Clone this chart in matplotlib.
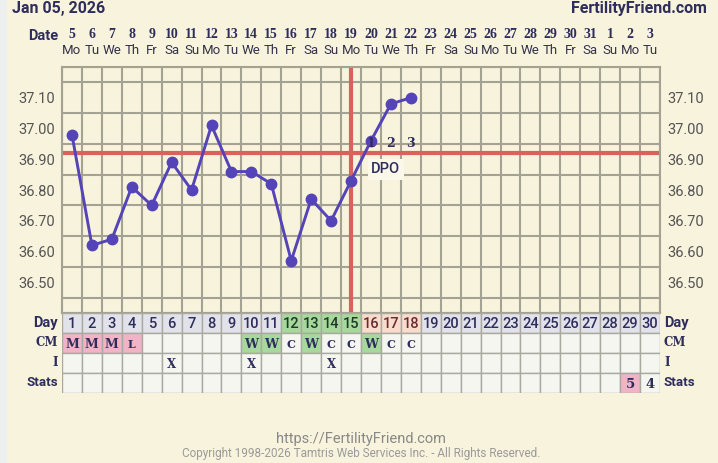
import matplotlib
matplotlib.use("Agg")
import matplotlib.pyplot as plt
import numpy as np
from matplotlib.patches import Rectangle
from matplotlib.transforms import blended_transform_factory

# ---------------- data ----------------
cycle_days = list(range(1, 31))
date_numbers = [5, 6, 7, 8, 9, 10, 11, 12, 13, 14, 15, 16, 17, 18, 19, 20, 21, 22, 23,
                24, 25, 26, 27, 28, 29, 30, 31, 1, 2, 3]
weekdays = ["Mo", "Tu", "We", "Th", "Fr", "Sa", "Su"] * 4 + ["Mo", "Tu"]
temp_days = list(range(1, 19))
temps = [36.98, 36.62, 36.64, 36.81, 36.75, 36.89, 36.80, 37.01, 36.86, 36.86,
         36.82, 36.57, 36.77, 36.70, 36.83, 36.96, 37.08, 37.10]
coverline = 36.92
ovulation_day = 15
dpo_days = [16, 17, 18]
dpo_labels = ["1", "2", "3"]
fertile_days = [12, 13, 14, 15]
cm_values = {1: "M", 2: "M", 3: "M", 4: "L", 10: "W", 11: "W", 12: "C", 13: "W",
             14: "C", 15: "C", 16: "W", 17: "C", 18: "C"}
intercourse_days = [6, 10, 14]
stats_values = {29: "5", 30: "4"}
ytick_values = [36.50, 36.60, 36.70, 36.80, 36.90, 37.00, 37.10]
row_labels = ["Day", "CM", "I", "Stats"]

# ---------------- style ----------------
BG = "#f8f3dc"
GRID = "#a3a293"
NAVY = "#2e2d5c"
LINE = "#5543b8"
RED = "#d9625c"

W, H = 718, 463
fig = plt.figure(figsize=(W / 100, H / 100), dpi=100, facecolor=BG)
fig.patches.append(Rectangle((0, 0), 7 / W, 1, transform=fig.transFigure,
                             facecolor="#eef0ef", edgecolor="none", zorder=0))

L, R, T, B = 62, 660, 67, 313
ax = fig.add_axes([L / W, 1 - B / H, (R - L) / W, (B - T) / H])
ax.set_facecolor(BG)
ax.set_xlim(0.5, 30.5)
ax.set_ylim(36.40, 37.20)
ax.set_xticks(np.arange(0.5, 31, 1), minor=True)
ax.set_yticks(np.arange(36.40, 37.21, 0.05), minor=True)
ax.set_xticks([])
ax.set_yticks(ytick_values)
ax.set_yticklabels([f"{v:.2f}" for v in ytick_values])
ax.tick_params(which="both", length=0)
ax.tick_params(axis="y", labelleft=True, labelright=True, labelsize=10.5,
               labelcolor="#545454", pad=5)
for lab in ax.get_yticklabels():
    lab.set_family("Roboto")
ax.grid(which="minor", color=GRID, linewidth=1.5)
ax.set_axisbelow(True)
for s in ax.spines.values():
    s.set_color(GRID)
    s.set_linewidth(1.5)

ax.axhline(coverline, color=RED, linewidth=3, zorder=2)
ax.axvline(ovulation_day, color=RED, linewidth=3, zorder=2)
ax.plot(temp_days, temps, color=LINE, linewidth=2.1, marker="o", markersize=7.5,
        markerfacecolor=LINE, markeredgecolor=LINE, zorder=3)

for d, lab in zip(dpo_days, dpo_labels):
    ax.text(d, 36.95, lab, ha="center", va="center", fontsize=9, fontweight="bold",
            family="DejaVu Serif", color=NAVY, zorder=4)
ax.text(16.75, 36.868, "DPO", ha="center", va="center", fontsize=10.5,
        family="Roboto", fontweight="medium", color=NAVY, zorder=4,
        bbox=dict(facecolor="#fbf8ea", edgecolor="none", pad=2.5))

# ---------------- header ----------------
tr = blended_transform_factory(ax.transData, fig.transFigure)
for d, dn, wd in zip(cycle_days, date_numbers, weekdays):
    ax.text(d, 1 - 34 / H, str(dn), transform=tr, ha="center", va="center",
            fontsize=10, fontweight="bold", family="Liberation Serif", color=NAVY)
    ax.text(d, 1 - 50 / H, wd, transform=tr, ha="center", va="center",
            fontsize=9.5, family="Roboto", color="#33334a")
fig.text(28 / W, 1 - 36 / H, "Date", ha="left", va="center", fontsize=10.5,
         fontweight="bold", family="Roboto", color=NAVY)
fig.text(12 / W, 1 - 9 / H, "Jan 05, 2026", ha="left", va="center", fontsize=11.5,
         fontweight="bold", family="Roboto", color=NAVY)
fig.text(707 / W, 1 - 9 / H, "FertilityFriend.com", ha="right", va="center",
         fontsize=11.5, fontweight="bold", family="Roboto", color=NAVY)

# ---------------- table ----------------
TB = 393
tax = fig.add_axes([L / W, 1 - TB / H, (R - L) / W, (TB - B) / H])
tax.set_xlim(0.5, 30.5)
tax.set_ylim(4, 0)
tax.axis("off")

EMPTY = "#f6f6f1"
DAYCELL = "#e2e2ea"
GREEN = "#a6d99b"
PEACH = "#f9dccb"
PINK = "#f1b4c7"
CELL_EDGE = "#a9a9a0"

for d in cycle_days:
    # Day row
    if d in fertile_days:
        fc, tc = GREEN, "#1f3a2a"
    elif d in dpo_days:
        fc, tc = PEACH, "#6a2b33"
    else:
        fc, tc = DAYCELL, NAVY
    tax.add_patch(Rectangle((d - 0.5, 0), 1, 1, facecolor=fc, edgecolor=CELL_EDGE, lw=1))
    tax.text(d, 0.55, str(d), ha="center", va="center", fontsize=10.5,
             family="Roboto", fontweight="medium", color=tc)
    # CM row
    cm = cm_values.get(d, "")
    fc = {"M": PINK, "L": PINK, "W": GREEN}.get(cm, EMPTY)
    tax.add_patch(Rectangle((d - 0.5, 1), 1, 1, facecolor=fc, edgecolor=CELL_EDGE, lw=1))
    if cm:
        tax.text(d, 1.55, cm, ha="center", va="center", fontsize=9 if cm in "MW" else 8,
                 fontweight="bold", family="DejaVu Serif", color=NAVY)
    # I row
    tax.add_patch(Rectangle((d - 0.5, 2), 1, 1, facecolor=EMPTY, edgecolor=CELL_EDGE, lw=1))
    if d in intercourse_days:
        tax.text(d, 2.55, "X", ha="center", va="center", fontsize=8.5,
                 fontweight="bold", family="DejaVu Serif", color=NAVY)
    # Stats row
    sv = stats_values.get(d, "")
    fc = PINK if sv == "5" else EMPTY
    tax.add_patch(Rectangle((d - 0.5, 3), 1, 1, facecolor=fc, edgecolor=CELL_EDGE, lw=1))
    if sv:
        tax.text(d, 3.55, sv, ha="center", va="center", fontsize=9.5,
                 fontweight="bold", family="DejaVu Serif", color=NAVY)

row_fonts = [("Roboto", 10.5), ("DejaVu Serif", 8.5), ("DejaVu Serif", 8.5), ("Roboto", 9.5)]
for i, lab in enumerate(row_labels):
    fam, fs = row_fonts[i]
    tax.text(0.3, i + 0.5, lab, ha="right", va="center", fontsize=fs,
             fontweight="bold", family=fam, color=NAVY)
    tax.text(30.7, i + 0.5, lab, ha="left", va="center", fontsize=fs,
             fontweight="bold", family=fam, color=NAVY)

# ---------------- footer ----------------
fig.text(361 / W, 1 - 439 / H, "https://FertilityFriend.com", ha="center", va="center",
         fontsize=10.5, family="Roboto", color="#888888")
fig.text(361 / W, 1 - 453 / H,
         "Copyright 1998-2026 Tamtris Web Services Inc. - All Rights Reserved.",
         ha="center", va="center", fontsize=8.5, family="Roboto", color="#9a9a9a")

fig.savefig("out.png", dpi=100, facecolor=BG)
